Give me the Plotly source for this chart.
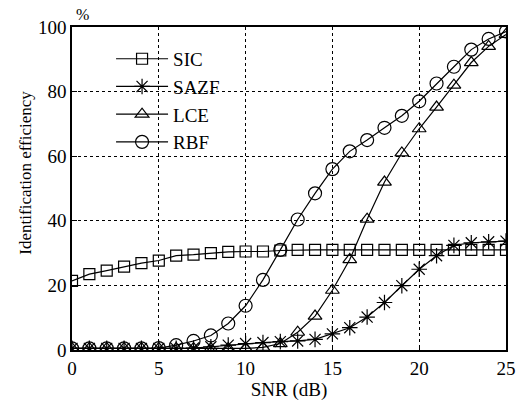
import plotly.graph_objects as go

snr = list(range(0, 26))
sic = [21.4, 23.5, 24.6, 25.8, 26.9, 27.7, 29.2, 29.5, 30.0, 30.4, 30.5, 30.5, 30.8,
       31.0, 31.0, 31.0, 31.0, 31.0, 31.0, 31.0, 31.0, 31.0, 31.0, 31.0, 31.0, 31.0]
sazf = [0.5, 0.5, 0.5, 0.5, 0.5, 0.5, 0.5, 0.6, 1.0, 1.5, 2.0, 2.3, 2.6,
        2.8, 3.3, 5.0, 6.9, 10.2, 14.7, 19.9, 25.0, 29.2, 32.4, 33.2, 33.5, 33.7]
lce = [0.5, 0.5, 0.5, 0.5, 0.5, 0.5, 0.5, 0.5, 0.5, 0.5, 0.5, 0.8, 2.0,
       5.5, 10.5, 18.5, 28.0, 40.5, 52.0, 61.0, 68.5, 75.2, 82.0, 89.0, 94.0, 97.7]
rbf = [0.5, 0.5, 0.5, 0.5, 0.5, 0.6, 1.5, 2.8, 4.5, 8.2, 13.7, 21.7, 31.0,
       40.4, 48.5, 56.0, 61.5, 65.0, 68.8, 72.5, 77.0, 82.5, 87.7, 93.0, 96.3, 98.6]

series = [
    ("SIC", sic, "square-open", 11),
    ("SAZF", sazf, "asterisk-open", 13),
    ("LCE", lce, "triangle-up-open", 12),
    ("RBF", rbf, "circle-open", 13),
]

FONT = "Times New Roman"

fig = go.Figure()
for name, vals, sym, size in series:
    fig.add_trace(go.Scatter(
        x=snr, y=vals, name=name, mode="lines+markers",
        line=dict(color="black", width=1.2),
        marker=dict(symbol=sym, size=size, color="black",
                    line=dict(color="black", width=1.2)),
    ))

axis_common = dict(
    showline=True, mirror=True, linecolor="black", linewidth=1.5,
    showgrid=True, gridcolor="black", gridwidth=1, griddash="dot",
    ticks="inside", ticklen=5, tickcolor="black", tickwidth=1,
    zeroline=False,
    tickfont=dict(family=FONT, size=19, color="black"),
)

fig.update_layout(
    width=528, height=406,
    margin=dict(l=72, r=20, t=27, b=45),
    paper_bgcolor="white", plot_bgcolor="white",
    font=dict(family=FONT, size=19, color="black"),
    xaxis=dict(range=[0, 25], dtick=5, **axis_common,
               title=dict(text="SNR (dB)", standoff=2,
                          font=dict(family=FONT, size=19))),
    yaxis=dict(range=[0, 100], dtick=20, **axis_common),
    showlegend=True,
    legend=dict(x=0.09, y=0.96, xanchor="left", yanchor="top",
                bgcolor="rgba(0,0,0,0)", borderwidth=0,
                itemwidth=52, tracegroupgap=0,
                font=dict(family=FONT, size=19, color="black")),
    annotations=[
        dict(text="Identification efficiency", textangle=-90,
             xref="paper", yref="paper", x=-0.108, y=0.5, yshift=16,
             xanchor="center", yanchor="middle", showarrow=False,
             font=dict(family=FONT, size=17, color="black")),
        dict(text="%", xref="paper", yref="paper", x=0.0, y=1.0,
             xanchor="left", yanchor="bottom", xshift=2, yshift=2,
             showarrow=False,
             font=dict(family=FONT, size=16, color="black")),
    ],
)

fig.write_html("out.html")
